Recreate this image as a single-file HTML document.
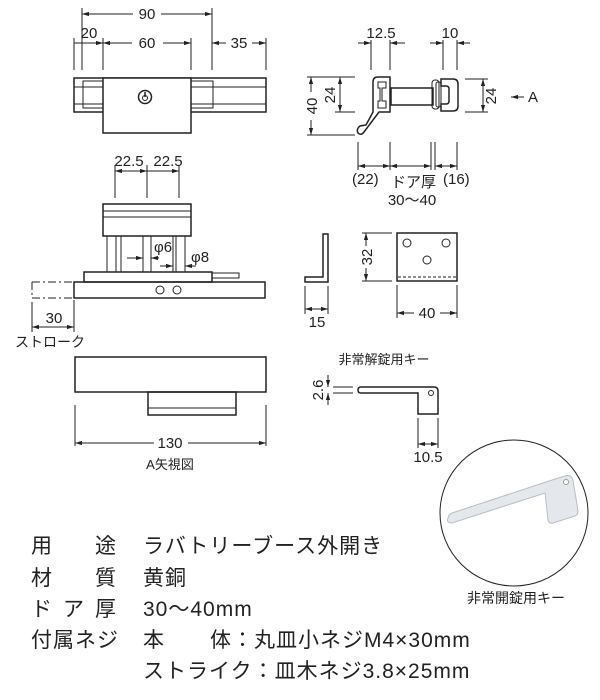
<!DOCTYPE html>
<html><head><meta charset="utf-8"><style>
html,body{margin:0;padding:0;background:#fff;}
svg{display:block}
text{font-family:"Liberation Sans","Noto Sans CJK JP",sans-serif;fill:#222}
</style></head><body>
<svg width="600" height="700" viewBox="0 0 600 700" xmlns="http://www.w3.org/2000/svg">
<defs>
<marker id="a" viewBox="0 0 10 10" refX="10" refY="5" markerWidth="7" markerHeight="7" orient="auto-start-reverse"><path d="M0,2 L10,5 L0,8z" fill="#222"/></marker>
</defs>
<g stroke="#222" fill="none" stroke-width="1">
<line x1="82" y1="8" x2="82" y2="70"/><line x1="212" y1="8" x2="212" y2="70"/>
<line x1="74" y1="38" x2="74" y2="70"/><line x1="103" y1="38" x2="103" y2="70"/><line x1="191" y1="38" x2="191" y2="70"/><line x1="266" y1="38" x2="266" y2="70"/>
<line x1="82" y1="14" x2="133" y2="14" marker-start="url(#a)"/><line x1="161" y1="14" x2="212" y2="14" marker-end="url(#a)"/>
<line x1="74" y1="43" x2="103" y2="43" marker-end="url(#a)"/>
<line x1="103" y1="43" x2="132" y2="43" marker-start="url(#a)"/><line x1="163" y1="43" x2="191" y2="43" marker-end="url(#a)"/>
<line x1="212" y1="43" x2="226" y2="43" marker-start="url(#a)"/><line x1="252" y1="43" x2="266" y2="43" marker-end="url(#a)"/>
<rect x="74" y="78" width="192" height="34" stroke-width="1.5"/>
<line x1="74" y1="87" x2="266" y2="87"/><line x1="74" y1="104" x2="266" y2="104"/>
<rect x="83" y="81" width="20" height="27"/><rect x="191" y="81" width="22" height="27"/>
<rect x="103" y="78" width="88" height="55" fill="#fff" stroke-width="1.5"/>
<circle cx="145" cy="97" r="6.5" stroke-width="1.5"/><path d="M145,92 v5" stroke-width="1.5"/><circle cx="145" cy="98" r="2.5"/>
<line x1="115" y1="165" x2="115" y2="198"/><line x1="147" y1="165" x2="147" y2="198"/><line x1="179" y1="165" x2="179" y2="198"/>
<line x1="115" y1="171" x2="147" y2="171" marker-start="url(#a)" marker-end="url(#a)"/><line x1="147" y1="171" x2="179" y2="171" marker-end="url(#a)"/>
<rect x="103" y="204" width="88" height="32" stroke-width="1.5"/>
<line x1="103" y1="211" x2="191" y2="211"/><line x1="103" y1="217" x2="191" y2="217"/>
<rect x="107" y="236" width="9" height="36"/><rect x="121" y="236" width="22" height="36"/><rect x="151" y="236" width="22" height="36"/><rect x="176" y="236" width="9" height="36"/>
<line x1="127" y1="258" x2="143" y2="258" marker-end="url(#a)"/><line x1="151" y1="258" x2="159" y2="258" marker-start="url(#a)"/>
<line x1="160" y1="266" x2="173" y2="266" marker-end="url(#a)"/><line x1="185" y1="266" x2="196" y2="266" marker-start="url(#a)"/>
<rect x="84" y="272" width="128" height="10" stroke-width="1.5"/>
<rect x="212" y="273" width="27" height="5"/>
<rect x="74" y="282" width="191" height="16" stroke-width="1.5"/>
<circle cx="160" cy="290" r="4"/><circle cx="177" cy="290" r="4"/>
<path d="M32,282 H74 M32,298 H74 M32,282 V298" stroke-dasharray="8,3,2,3"/>
<line x1="32" y1="302" x2="32" y2="332"/><line x1="74" y1="300" x2="74" y2="332"/>
<line x1="32" y1="327" x2="74" y2="327" marker-start="url(#a)" marker-end="url(#a)"/>
<line x1="371" y1="40" x2="371" y2="70"/><line x1="390" y1="40" x2="390" y2="70"/>
<line x1="358" y1="43" x2="371" y2="43" marker-end="url(#a)"/><line x1="390" y1="43" x2="405" y2="43" marker-start="url(#a)"/>
<line x1="443" y1="40" x2="443" y2="70"/><line x1="457" y1="40" x2="457" y2="70"/>
<line x1="430" y1="43" x2="443" y2="43" marker-end="url(#a)"/><line x1="457" y1="43" x2="470" y2="43" marker-start="url(#a)"/>
<path d="M378,77 H390 V112 H379 L364,132 Q361,136 358,133 Q356,129 360,126 L366,125 L373,112 V82 Q373,77 378,77Z" stroke-width="1.5"/>
<path d="M378,82 H386 V88 H382 V101 H386 V108 H378 V101 H380 V88 H378Z"/>
<rect x="391" y="88" width="42" height="17" stroke-width="1.5"/>
<rect x="432" y="80" width="7" height="29" rx="3"/><rect x="436" y="82" width="5" height="25" rx="2"/>
<path d="M441,79 H453 Q458,79 458,84 V106 Q458,111 453,111 H441 V104 H446 Q449,104 449,101 V89 Q449,86 446,86 H441Z" stroke-width="1.5"/>
<line x1="307" y1="77" x2="355" y2="77"/><line x1="307" y1="135" x2="355" y2="135"/><line x1="335" y1="112" x2="355" y2="112"/>
<line x1="311" y1="77" x2="311" y2="92" marker-start="url(#a)"/><line x1="311" y1="120" x2="311" y2="135" marker-end="url(#a)"/>
<line x1="340" y1="77" x2="340" y2="112" marker-start="url(#a)" marker-end="url(#a)"/>
<line x1="465" y1="79" x2="488" y2="79"/><line x1="465" y1="112" x2="488" y2="112"/>
<line x1="483" y1="79" x2="483" y2="112" marker-start="url(#a)" marker-end="url(#a)"/>
<line x1="524" y1="97" x2="511" y2="97" marker-end="url(#a)"/>
<line x1="358" y1="142" x2="358" y2="170"/><line x1="390" y1="142" x2="390" y2="170"/><line x1="431" y1="142" x2="431" y2="170"/><line x1="435" y1="142" x2="435" y2="170"/><line x1="457" y1="142" x2="457" y2="170"/>
<line x1="358" y1="166" x2="390" y2="166" marker-start="url(#a)" marker-end="url(#a)"/>
<line x1="390" y1="166" x2="431" y2="166" marker-start="url(#a)" marker-end="url(#a)"/>
<line x1="435" y1="166" x2="457" y2="166" marker-start="url(#a)" marker-end="url(#a)"/>
<path d="M323,234 H328 V282 H305 V277 H323Z" stroke-width="1.5"/>
<line x1="305" y1="286" x2="305" y2="314"/><line x1="328" y1="286" x2="328" y2="314"/>
<line x1="305" y1="309" x2="328" y2="309" marker-start="url(#a)" marker-end="url(#a)"/>
<rect x="397" y="233" width="60" height="48" stroke-width="1.5"/>
<line x1="398" y1="277" x2="456" y2="277" stroke-dasharray="3,2"/>
<circle cx="407" cy="243" r="4"/><circle cx="446" cy="243" r="4"/><circle cx="427" cy="260" r="4"/>
<line x1="362" y1="233" x2="392" y2="233"/><line x1="362" y1="281" x2="392" y2="281"/>
<line x1="366" y1="233" x2="366" y2="246" marker-start="url(#a)"/><line x1="366" y1="268" x2="366" y2="281" marker-end="url(#a)"/>
<line x1="397" y1="285" x2="397" y2="318"/><line x1="457" y1="285" x2="457" y2="318"/>
<line x1="397" y1="313" x2="414" y2="313" marker-start="url(#a)"/><line x1="440" y1="313" x2="457" y2="313" marker-end="url(#a)"/>
<rect x="75" y="357" width="191" height="35" stroke-width="1.5"/>
<rect x="148" y="392" width="88" height="23" stroke-width="1.5"/>
<line x1="148" y1="408" x2="236" y2="408"/>
<line x1="75" y1="405" x2="75" y2="446"/><line x1="266" y1="405" x2="266" y2="446"/>
<line x1="75" y1="443" x2="154" y2="443" marker-start="url(#a)"/><line x1="188" y1="443" x2="266" y2="443" marker-end="url(#a)"/>
<path d="M361,387 H434 Q438,387 438,391 V414 H418 V393 H361 Q358,393 358,390 Q358,387 361,387Z" stroke-width="1.5"/>
<circle cx="431" cy="393" r="2.5"/>
<line x1="333" y1="387" x2="353" y2="387"/><line x1="333" y1="393" x2="353" y2="393"/>
<line x1="328" y1="375" x2="328" y2="387" marker-end="url(#a)"/><line x1="328" y1="405" x2="328" y2="393" marker-end="url(#a)"/>
<line x1="418" y1="418" x2="418" y2="448"/><line x1="438" y1="418" x2="438" y2="448"/>
<line x1="418" y1="444" x2="438" y2="444" marker-start="url(#a)" marker-end="url(#a)"/>
<ellipse cx="514" cy="513" rx="74" ry="73"/>
</g>
<g>
<path d="M448,518 Q446,523 452,523 L545,493 L548,520 Q549,524 553,523 L575,516 Q578,515 578,511 L573,480 Q571,474 565,476 L546,482 L452,513 Q449,514 448,518Z" fill="#e4e7ec" stroke="#b8bec8"/>
<circle cx="566" cy="482" r="2.5" fill="#fff" stroke="#999"/>
</g>
<g font-size="15">
<text x="147" y="19" text-anchor="middle">90</text>
<text x="89" y="38" text-anchor="middle">20</text>
<text x="147" y="48" text-anchor="middle">60</text>
<text x="239" y="48" text-anchor="middle">35</text>
<text x="129" y="166" text-anchor="middle">22.5</text>
<text x="168" y="166" text-anchor="middle">22.5</text>
<text x="154" y="252">φ6</text>
<text x="191" y="262">φ8</text>
<text x="54" y="323" text-anchor="middle">30</text>
<text x="15" y="347" font-size="14">ストローク</text>
<text x="381" y="38" text-anchor="middle">12.5</text>
<text x="450" y="38" text-anchor="middle">10</text>
<text x="528" y="102">A</text>
<text x="352" y="184">(22)</text>
<text x="391" y="187">ドア厚</text>
<text x="443" y="184">(16)</text>
<text x="412" y="205" text-anchor="middle">30～40</text>
<text x="317" y="327" text-anchor="middle">15</text>
<text x="427" y="318" text-anchor="middle">40</text>
<text x="170" y="448" text-anchor="middle">130</text>
<text x="170" y="469" font-size="13" text-anchor="middle">A矢視図</text>
<text x="384" y="364" font-size="13" text-anchor="middle">非常解錠用キー</text>
<text x="428" y="462" text-anchor="middle">10.5</text>
<text x="516" y="603" font-size="14" text-anchor="middle">非常開錠用キー</text>
</g>
<g font-size="15" text-anchor="middle">
<text transform="translate(317,106) rotate(-90)">40</text>
<text transform="translate(335,95) rotate(-90)">24</text>
<text transform="translate(496,96) rotate(-90)">24</text>
<text transform="translate(372,257) rotate(-90)">32</text>
<text transform="translate(323,390) rotate(-90)">2.6</text>
</g>
<g font-size="21" letter-spacing="1">
<text x="31" y="553">用</text><text x="95" y="553">途</text><text x="143" y="553">ラバトリーブース外開き</text>
<text x="31" y="585">材</text><text x="95" y="585">質</text><text x="143" y="585">黄銅</text>
<text x="31" y="616">ド</text><text x="63" y="616">ア</text><text x="95" y="616">厚</text><text x="143" y="616">30～40mm</text>
<text x="31" y="647">付属ネジ</text><text x="143" y="647">本</text><text x="210" y="647">体：丸皿小ネジM4×30mm</text>
<text x="143" y="678">ストライク：皿木ネジ3.8×25mm</text>
</g>
</svg>
</body></html>
